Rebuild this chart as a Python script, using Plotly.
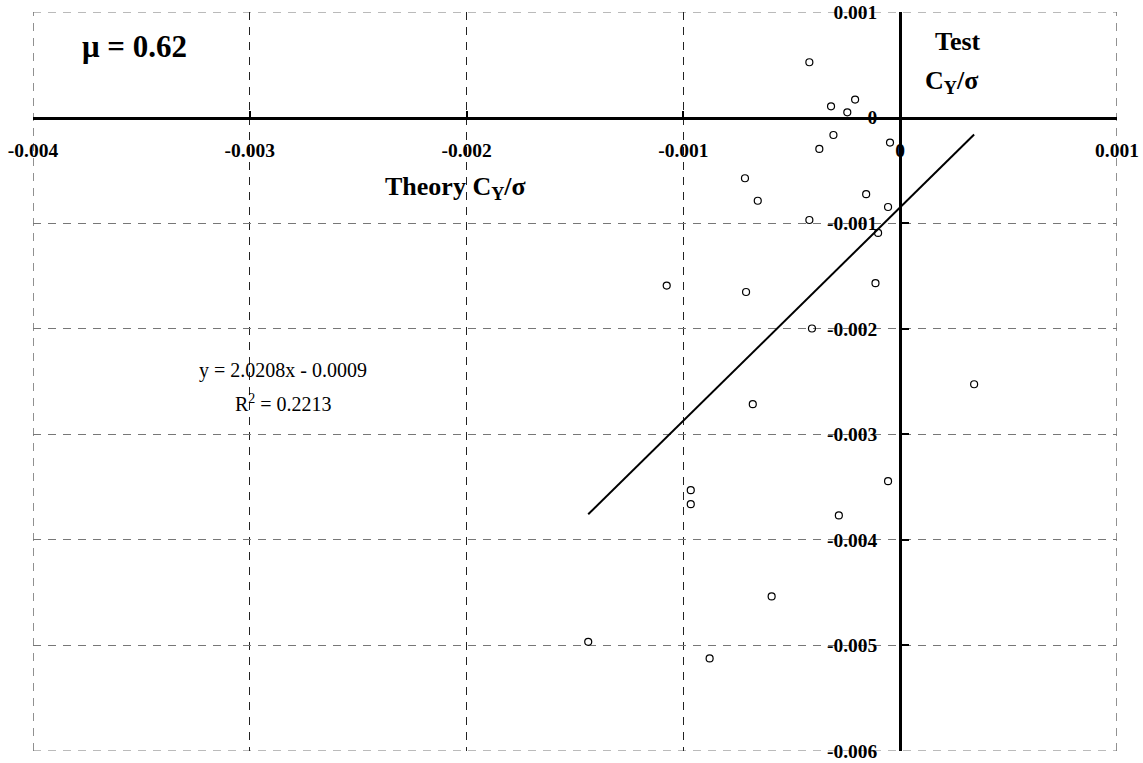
import plotly.graph_objects as go

# ---- data ----
theory_x = [-0.000419, -0.000319, -0.000208, -0.000244, -0.000308, -0.000373, -0.000047,
            -0.000157, -0.000716, -0.000657, -0.000056, -0.000419, -0.000102, -0.000114,
            -0.001077, -0.000711, -0.000407, 0.000341, -0.000680, -0.000056, -0.000966,
            -0.000966, -0.000283, -0.000593, -0.001439, -0.000879]
test_y = [0.000524, 0.000107, 0.000170, 0.000050, -0.000165, -0.000297, -0.000237,
          -0.000726, -0.000575, -0.000788, -0.000847, -0.000970, -0.001093, -0.001569,
          -0.001591, -0.001652, -0.001998, -0.002526, -0.002715, -0.003444, -0.003529,
          -0.003662, -0.003769, -0.004536, -0.004966, -0.005123]

trend_slope = 2.0208
trend_intercept = -0.00085

x_range = [-0.004, 0.001]
y_range = [-0.006, 0.001]
x_tick_vals = [-0.004, -0.003, -0.002, -0.001, 0.0, 0.001]
x_tick_text = ["-0.004", "-0.003", "-0.002", "-0.001", "0", "0.001"]
y_tick_vals = [0.001, 0.0, -0.001, -0.002, -0.003, -0.004, -0.005, -0.006]
y_tick_text = ["0.001", "0", "-0.001", "-0.002", "-0.003", "-0.004", "-0.005", "-0.006"]

mu_label = "μ = 0.62"
x_title = "Theory C<sub>Y</sub>/σ"
y_title_1 = "Test"
y_title_2 = "C<sub>Y</sub>/σ"
eq_label = "y = 2.0208x - 0.0009"
r2_label = "R<sup>2</sup> = 0.2213"

FONT = "Liberation Serif, Times New Roman, serif"
VGRID = "#222222"
HGRID = "#777777"
DASH = "8px,7px"

fig = go.Figure()
fig.add_trace(go.Scatter(
    x=theory_x, y=test_y, mode="markers",
    marker=dict(symbol="circle-open", size=7, color="black", line=dict(width=1.2)),
    showlegend=False, hoverinfo="skip"))

x_lo, x_hi = min(theory_x), max(theory_x)
fig.add_trace(go.Scatter(
    x=[x_lo, x_hi],
    y=[trend_slope * x_lo + trend_intercept, trend_slope * x_hi + trend_intercept],
    mode="lines", line=dict(color="black", width=2),
    showlegend=False, hoverinfo="skip"))

fig.update_layout(
    width=1143, height=763,
    margin=dict(l=33, r=26, t=12, b=12, autoexpand=False),
    plot_bgcolor="white", paper_bgcolor="white",
    showlegend=False,
    font=dict(family=FONT, color="black"),
)

fig.update_xaxes(
    range=x_range, anchor="free", position=6 / 7, side="bottom",
    tickmode="array", tickvals=x_tick_vals, ticktext=x_tick_text,
    showline=True, linecolor="black", linewidth=3,
    ticks="inside", ticklen=6, tickwidth=2, tickcolor="black",
    ticklabelstandoff=14,
    tickfont=dict(family=FONT, size=19.5, color="black", weight="bold"),
    showgrid=True, gridcolor=VGRID, gridwidth=1, griddash=DASH,
    zeroline=False, automargin=False,
)
fig.update_yaxes(
    range=y_range, anchor="free", position=0.8, side="left",
    tickmode="array", tickvals=y_tick_vals, ticktext=y_tick_text,
    showline=True, linecolor="black", linewidth=3,
    ticks="inside", ticklen=7, tickwidth=2, tickcolor="black",
    ticklabelstandoff=18,
    tickfont=dict(family=FONT, size=19.5, color="black", weight="bold"),
    showgrid=True, gridcolor=HGRID, gridwidth=1, griddash=DASH,
    zeroline=False, automargin=False,
)

# border gridlines at the range edges (plotly skips edge gridlines)
for xv in x_range:
    fig.add_shape(type="line", xref="x", yref="y", x0=xv, x1=xv, y0=y_range[0], y1=y_range[1],
                  line=dict(color=VGRID, width=1, dash=DASH), layer="below")
for yv in y_range:
    fig.add_shape(type="line", xref="x", yref="y", x0=x_range[0], x1=x_range[1], y0=yv, y1=yv,
                  line=dict(color=HGRID, width=1, dash=DASH), layer="below")

def ann(text, x, y, size, bold=True):
    fig.add_annotation(
        text=text, x=x, y=y, xref="x", yref="y", showarrow=False,
        xanchor="center", yanchor="middle",
        font=dict(family=FONT, size=size, color="black",
                  weight="bold" if bold else "normal"))

ann(mu_label, -0.003533, 0.000675, 31)
ann(y_title_1, 0.000267, 0.000716, 26)
ann(y_title_2, 0.000235, 0.000337, 26)
ann(x_title, -0.002051, -0.00067, 26)
ann(eq_label, -0.002848, -0.002393, 20, bold=False)
ann(r2_label, -0.002846, -0.002708, 20, bold=False)

fig.write_html("out.html", config={"displayModeBar": False},
               post_script="document.body.style.margin='0';")
